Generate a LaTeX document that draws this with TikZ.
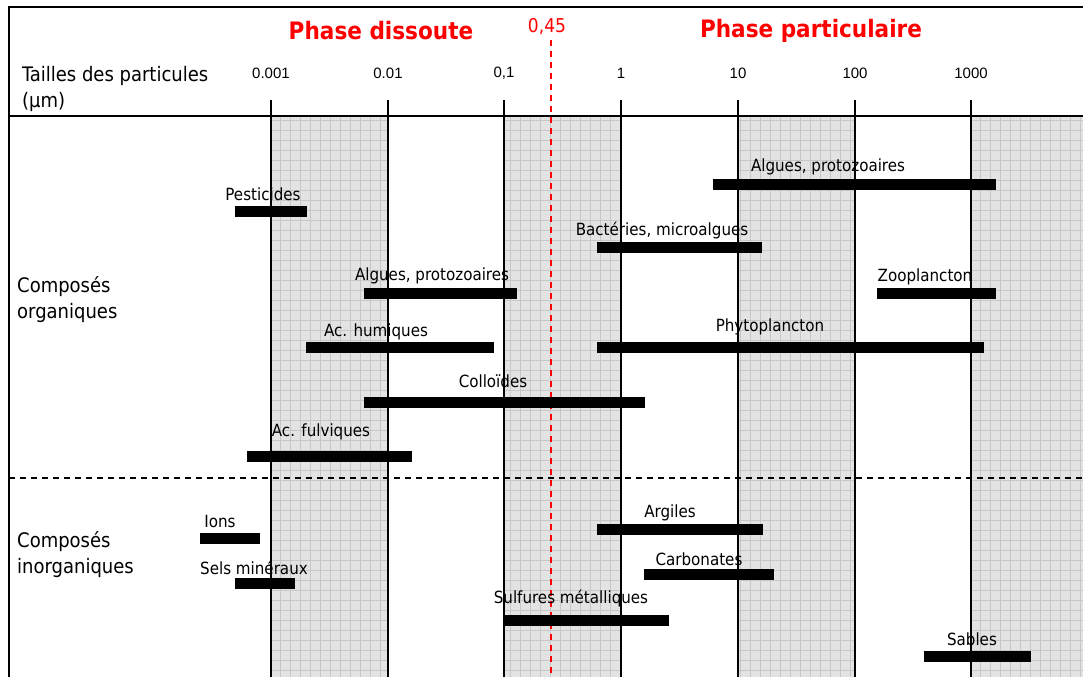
\documentclass[tikz,border=0pt]{standalone}
\usepackage{fontspec}
\setmainfont{DejaVu Sans Condensed}
\newfontfamily\tickfont{Liberation Sans}
\usepackage{xcolor}
\definecolor{phasered}{rgb}{1, 0, 0}
\definecolor{bandgray}{rgb}{0.89, 0.89, 0.89}
\definecolor{gridgray}{rgb}{0.78, 0.78, 0.78}
\usetikzlibrary{positioning}

\tikzset{
	bar/.style={line width=11pt, black},
	lbl/.style={inner sep=0pt, font=\fontsize{16.8}{19}\selectfont},
	group/.style={inner sep=0pt, anchor=west, align=left, font=\fontsize{20}{26}\selectfont},
	tick/.style={inner sep=0pt, font=\tickfont\fontsize{15}{17}\selectfont},
	phase/.style={inner sep=0pt, text=phasered, font=\bfseries\fontsize{24}{28}\selectfont},
}

\begin{document}
\begin{tikzpicture}[x=1pt, y=-1pt]
		\useasboundingbox (0,0) rectangle (1083,677);
		
		%shaded decades
		\foreach \xa/\xb in {271/388, 504/621, 738/855, 971/1083}
		{
		\fill[bandgray] (\xa,116) rectangle (\xb,677);
		\begin{scope}
		\clip (\xa,116) rectangle (\xb,677);
		\draw[gridgray, line width=0.8pt, step=10pt] (\xa,677) grid (\xb,116);
		\end{scope}
		}
		
		%frame
		\draw [line width=2pt] (1083,7) -- (9,7) -- (9,677);
		\draw [line width=2pt] (9,116) -- (1083,116);
		\draw [line width=1.5pt, dash pattern=on 6pt off 5pt] (9,478) -- (1083,478);
		
		%decade lines & sizes
		\foreach \x/\t in {271/0.001, 388/0.01, 504/{0,1}, 621/1, 738/10, 855/100, 971/1000}
		{
		\draw [line width=2pt] (\x,100) -- (\x,677);
		\node[tick] at (\x,73) {\t};
		}
		
		%filter cut
		\draw [phasered, line width=2pt, dash pattern=on 6pt off 5pt] (551,40) -- (551,677);
		\node[inner sep=0pt, text=phasered, font=\fontsize{19}{22}\selectfont] (cut) at (547,27) {0,45};
		\node[phase] (dissoute) at (381,31) {Phase dissoute};
		\node[phase] (particulaire) at (811,31) {Phase particulaire};
		
		%axis title & groups
		\node[group] (tailles) at (22,89) {Tailles des particules\\(µm)};
		\node[group] (organiques) at (17,300) {Composés\\organiques};
		\node[group] (inorganiques) at (17,555) {Composés\\inorganiques};
		
		%organic compounds
		\draw[bar] (713,184) -- (996,184); \node[lbl] (algues2) at (828,167) {Algues, protozoaires};
		\draw[bar] (235,211) -- (307,211); \node[lbl] (pesticides) at (263,194) {Pesticides};
		\draw[bar] (597,247) -- (762,247); \node[lbl] (bacteries) at (662,231) {Bactéries, microalgues};
		\draw[bar] (364,293) -- (517,293); \node[lbl] (algues1) at (432,276) {Algues, protozoaires};
		\draw[bar] (877,293) -- (996,293); \node[lbl] (zooplancton) at (925,277) {Zooplancton};
		\draw[bar] (306,347) -- (494,347); \node[lbl] (humiques) at (376,332) {Ac. humiques};
		\draw[bar] (597,347) -- (984,347); \node[lbl] (phytoplancton) at (770,327) {Phytoplancton};
		\draw[bar] (364,402) -- (645,402); \node[lbl] (colloides) at (493,381) {Colloïdes};
		\draw[bar] (247,456) -- (412,456); \node[lbl] (fulviques) at (321,432) {Ac. fulviques};
		
		%inorganic compounds
		\draw[bar] (200,538) -- (260,538); \node[lbl] (ions) at (220,521) {Ions};
		\draw[bar] (597,529) -- (763,529); \node[lbl] (argiles) at (670,513) {Argiles};
		\draw[bar] (235,583) -- (295,583); \node[lbl] (sels) at (254,568) {Sels minéraux};
		\draw[bar] (644,574) -- (774,574); \node[lbl] (carbonates) at (699,559) {Carbonates};
		\draw[bar] (504,620) -- (669,620); \node[lbl] (sulfures) at (571,599) {Sulfures métalliques};
		\draw[bar] (924,656) -- (1031,656); \node[lbl] (sables) at (972,639) {Sables};
\end{tikzpicture}
\end{document}
